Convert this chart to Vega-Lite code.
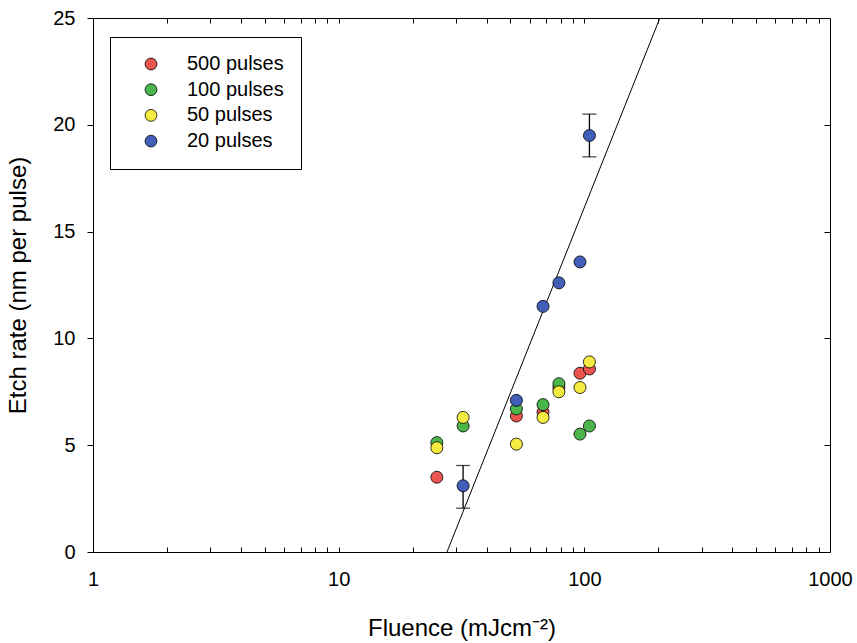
{
  "$schema": "https://vega.github.io/schema/vega-lite/v6.json",
  "width": 737,
  "height": 534,
  "autosize": {"type": "none"},
  "padding": {"left": 93, "top": 18, "right": 27, "bottom": 91},
  "background": "white",
  "config": {
    "font": "Liberation Sans",
    "view": {"stroke": "black", "strokeWidth": 1},
    "axis": {"grid": false, "domain": false, "labelColor": "black", "titleColor": "black", "tickColor": "black", "labelFont": "Liberation Sans", "titleFont": "Liberation Sans", "titleFontWeight": "normal"}
  },
  "datasets": {
    "pts": [
      {"F": 25.1, "rate": 3.5, "series": "500 pulses"},
      {"F": 52.9, "rate": 6.37, "series": "500 pulses"},
      {"F": 67.9, "rate": 6.55, "series": "500 pulses"},
      {"F": 78.8, "rate": 7.7, "series": "500 pulses"},
      {"F": 96.0, "rate": 8.37, "series": "500 pulses"},
      {"F": 104.9, "rate": 8.57, "series": "500 pulses"},
      {"F": 25.1, "rate": 5.12, "series": "100 pulses"},
      {"F": 32.1, "rate": 5.9, "series": "100 pulses"},
      {"F": 52.9, "rate": 6.7, "series": "100 pulses"},
      {"F": 67.9, "rate": 6.9, "series": "100 pulses"},
      {"F": 78.8, "rate": 7.88, "series": "100 pulses"},
      {"F": 96.0, "rate": 5.52, "series": "100 pulses"},
      {"F": 104.9, "rate": 5.9, "series": "100 pulses"},
      {"F": 25.1, "rate": 4.88, "series": "50 pulses"},
      {"F": 32.1, "rate": 6.3, "series": "50 pulses"},
      {"F": 52.9, "rate": 5.05, "series": "50 pulses"},
      {"F": 67.9, "rate": 6.3, "series": "50 pulses"},
      {"F": 78.8, "rate": 7.5, "series": "50 pulses"},
      {"F": 96.0, "rate": 7.7, "series": "50 pulses"},
      {"F": 104.9, "rate": 8.9, "series": "50 pulses"},
      {"F": 32.1, "rate": 3.1, "series": "20 pulses"},
      {"F": 52.9, "rate": 7.1, "series": "20 pulses"},
      {"F": 67.9, "rate": 11.5, "series": "20 pulses"},
      {"F": 78.8, "rate": 12.6, "series": "20 pulses"},
      {"F": 96.0, "rate": 13.58, "series": "20 pulses"},
      {"F": 104.9, "rate": 19.5, "series": "20 pulses"}
    ],
    "err": [
      {"F": 32.1, "lo": 2.05, "hi": 4.05},
      {"F": 104.9, "lo": 18.5, "hi": 20.5}
    ],
    "fit": [
      {"F": 27.6, "rate": 0},
      {"F": 203, "rate": 25}
    ]
  },
  "resolve": {"axis": {"x": "independent", "y": "independent"}},
  "layer": [
    {
      "data": {"name": "fit"},
      "mark": {"type": "line", "color": "black", "strokeWidth": 1, "clip": true},
      "encoding": {
        "x": {"field": "F", "type": "quantitative", "scale": {"type": "log", "domain": [1, 1000], "nice": false},
          "axis": {"orient": "top", "labels": false, "title": null, "tickSize": -5,
            "values": [2,3,4,5,6,7,8,9,10,20,30,40,50,60,70,80,90,100,200,300,400,500,600,700,800,900]}},
        "y": {"field": "rate", "type": "quantitative", "scale": {"domain": [0, 25], "nice": false, "zero": false},
          "axis": {"orient": "right", "labels": false, "title": null, "tickSize": -6, "values": [5, 10, 15, 20]}}
      }
    },
    {
      "data": {"name": "err"},
      "mark": {"type": "rule", "color": "black", "strokeWidth": 1.3},
      "encoding": {
        "x": {"field": "F", "type": "quantitative", "axis": null},
        "y": {"field": "lo", "type": "quantitative", "axis": null},
        "y2": {"field": "hi"}
      }
    },
    {
      "data": {"name": "err"},
      "mark": {"type": "tick", "orient": "horizontal", "color": "black", "size": 14, "thickness": 1.3},
      "encoding": {
        "x": {"field": "F", "type": "quantitative", "axis": null},
        "y": {"field": "lo", "type": "quantitative", "axis": null}
      }
    },
    {
      "data": {"name": "err"},
      "mark": {"type": "tick", "orient": "horizontal", "color": "black", "size": 14, "thickness": 1.3},
      "encoding": {
        "x": {"field": "F", "type": "quantitative", "axis": null},
        "y": {"field": "hi", "type": "quantitative", "axis": null}
      }
    },
    {
      "data": {"name": "pts"},
      "mark": {"type": "point", "shape": "circle", "filled": true, "opacity": 1, "stroke": "black", "strokeWidth": 0.8, "size": 145},
      "encoding": {
        "x": {"field": "F", "type": "quantitative",
          "axis": {"orient": "bottom", "title": "Fluence (mJcm⁻²)", "titleFontSize": 24, "titlePadding": 27,
            "labelFontSize": 20, "labelPadding": 22, "tickSize": -5, "labelOverlap": false, "labelFlush": false, "format": "d",
            "labelExpr": "indexof([1,10,100,1000], datum.value) >= 0 ? datum.label : ''",
            "values": [1,2,3,4,5,6,7,8,9,10,20,30,40,50,60,70,80,90,100,200,300,400,500,600,700,800,900,1000]}},
        "y": {"field": "rate", "type": "quantitative",
          "axis": {"orient": "left", "title": "Etch rate (nm per pulse)", "titleFontSize": 24, "titlePadding": 22,
            "labelFontSize": 20, "labelPadding": 12, "tickSize": 6, "values": [0, 5, 10, 15, 20, 25]}},
        "color": {"field": "series", "type": "nominal",
          "scale": {"domain": ["500 pulses", "100 pulses", "50 pulses", "20 pulses"], "range": ["#eb5550", "#4bb44b", "#f5eb41", "#415fb9"]},
          "legend": {"orient": "none", "legendX": 17, "legendY": 19, "title": null, "fillColor": "white", "strokeColor": "black",
            "padding": 17, "labelFontSize": 20, "labelFont": "Liberation Sans", "labelColor": "black", "symbolSize": 140,
            "symbolStrokeColor": "black", "symbolStrokeWidth": 0.8, "symbolType": "circle", "symbolOffset": 14, "labelOffset": 26, "rowPadding": 5.7}}
      }
    }
  ]
}
